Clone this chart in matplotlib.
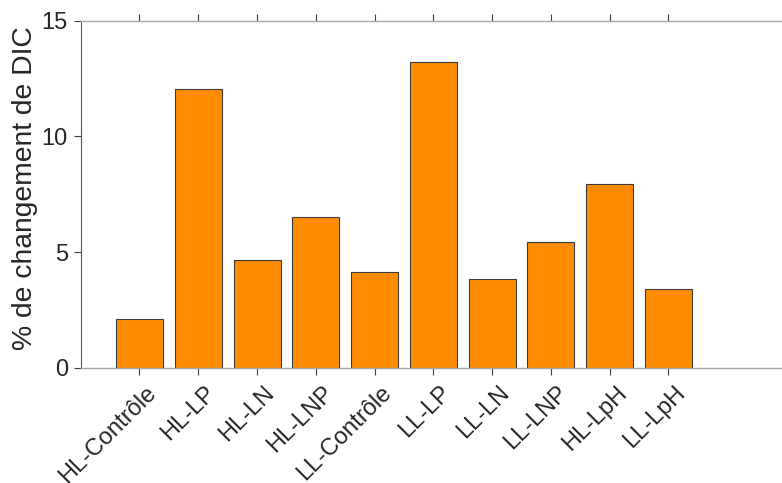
import matplotlib
matplotlib.use("Agg")
import matplotlib.pyplot as plt
import matplotlib.transforms as mtransforms
import numpy as np

categories = ["HL-Contrôle", "HL-LP", "HL-LN", "HL-LNP", "LL-Contrôle",
              "LL-LP", "LL-LN", "LL-LNP", "HL-LpH", "LL-LpH"]
values = [2.10, 12.06, 4.65, 6.51, 4.13, 13.20, 3.86, 5.43, 7.94, 3.40]
yticks = [0, 5, 10, 15]

plt.rcParams['font.family'] = ['Liberation Sans', 'DejaVu Sans']

fig = plt.figure(figsize=(7.82, 4.83), dpi=100)
ax = fig.add_axes([80.7/782, (483-368)/483, (786-80.7)/782, 347.3/483])

x = np.arange(1, len(categories)+1)
ax.bar(x, values, width=0.8, color='#FF8C00', edgecolor='#3a3a3a', linewidth=0.8, zorder=2)

ax.set_xlim(0, 12)
ax.set_ylim(0, 15)
ax.set_yticks(yticks)
ax.set_xticks(x)
ax.set_xticklabels(categories, rotation=45, ha='right', va='baseline', rotation_mode='anchor')

ax.tick_params(axis='both', direction='out', length=5, width=0.8, color='#404040',
               labelsize=17, labelcolor='#262626')
ax.tick_params(axis='x', top=True, pad=13.5)
ax.tick_params(axis='y', pad=4.3)

offset = mtransforms.ScaledTranslation(18/100, 0, fig.dpi_scale_trans)
for lbl in ax.get_xticklabels():
    lbl.set_transform(lbl.get_transform() + offset)

for s in ['top', 'bottom']:
    ax.spines[s].set_color('#a6a6a6')
    ax.spines[s].set_linewidth(1.0)
ax.spines['left'].set_color('#555555')
ax.spines['left'].set_linewidth(0.8)
ax.spines['right'].set_visible(False)

ax.set_ylabel('% de changement de DIC', fontsize=20.3, color='#262626')
ax.yaxis.set_label_coords((38-80.7)/705.3, (368-188.5)/347.3)

fig.savefig('out.png', dpi=100)
